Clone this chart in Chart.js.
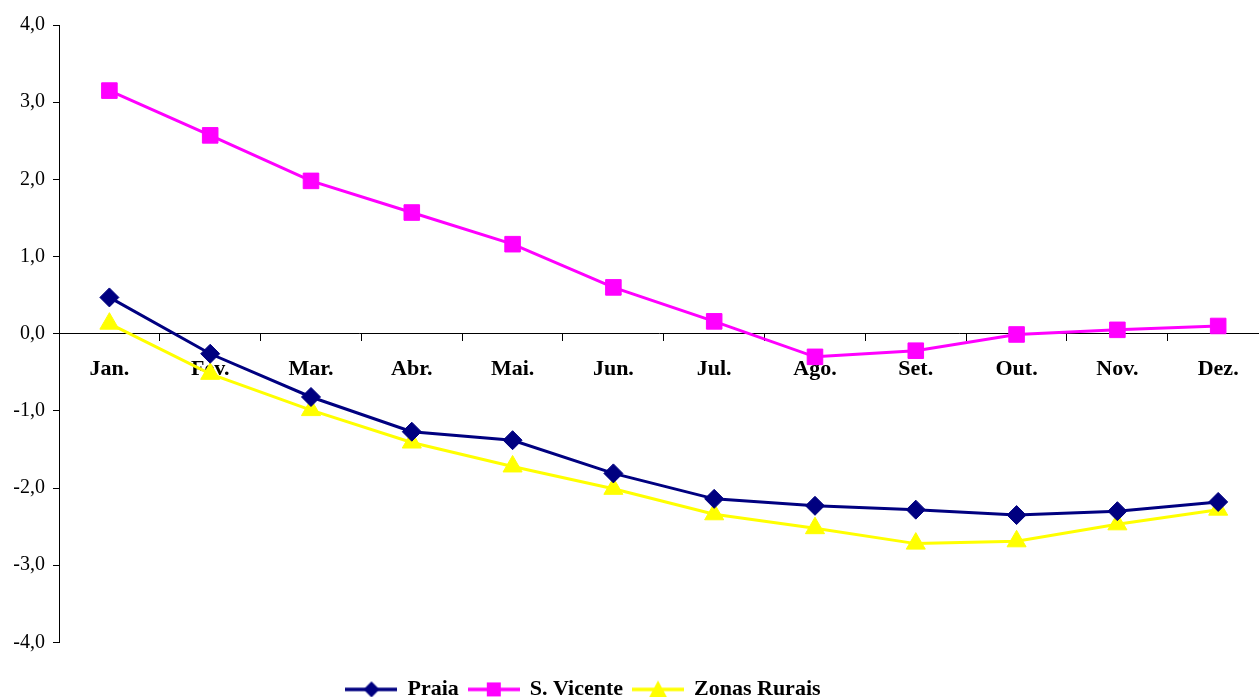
<!DOCTYPE html>
<html>
<head>
<meta charset="utf-8">
<script src="https://cdn.jsdelivr.net/npm/chart.js@4/dist/chart.umd.min.js"></script>
<style>
  html, body { margin: 0; padding: 0; background: #fff; overflow: hidden; }
  #chart { display: block; }
</style>
</head>
<body>
<canvas id="chart" width="1259" height="697"></canvas>
<script>
// meses
const meses = ['Jan.', 'Fev.', 'Mar.', 'Abr.', 'Mai.', 'Jun.', 'Jul.', 'Ago.', 'Set.', 'Out.', 'Nov.', 'Dez.'];

// séries
const praia = [0.47, -0.26, -0.82, -1.27, -1.38, -1.81, -2.14, -2.23, -2.28, -2.35, -2.30, -2.18];
const sVicente = [3.15, 2.57, 1.98, 1.57, 1.16, 0.60, 0.16, -0.30, -0.22, -0.01, 0.05, 0.10];
const zonasRurais = [0.13, -0.52, -0.99, -1.41, -1.72, -2.01, -2.34, -2.52, -2.72, -2.69, -2.47, -2.28];

const yTicks = [-4, -3, -2, -1, 0, 1, 2, 3, 4];

// no original o eixo continua além da margem direita (Dez. fica cortado)
const xMin = -0.5;
const xMax = 11.405;

const serif = '"Liberation Serif", "Times New Roman", serif';

const pontos = arr => arr.map((v, i) => ({ x: i, y: v }));

// ícone da legenda: linha com marcador
function legendIcon(color, shape) {
  const c = document.createElement('canvas');
  c.width = 52; c.height = 22;
  const g = c.getContext('2d');
  g.strokeStyle = color;
  g.lineWidth = 3.5;
  g.beginPath(); g.moveTo(0, 11); g.lineTo(52, 11); g.stroke();
  g.fillStyle = color;
  g.beginPath();
  if (shape === 'diamond') {
    g.moveTo(26, 3); g.lineTo(34, 11); g.lineTo(26, 19); g.lineTo(18, 11);
  } else if (shape === 'square') {
    g.rect(19, 4, 14, 14);
  } else {
    g.moveTo(26, 2); g.lineTo(35, 19); g.lineTo(17, 19);
  }
  g.closePath(); g.fill();
  return c;
}

const icons = [
  legendIcon('#000080', 'diamond'),
  legendIcon('#FF00FF', 'square'),
  legendIcon('#FFFF00', 'triangle')
];

// desloca a legenda para a posição do original
const legendShift = {
  id: 'legendShift',
  afterLayout(chart) {
    const lg = chart.legend;
    if (!lg) return;
    lg.left -= 46; lg.right -= 46;
    lg.top += 26; lg.bottom += 26;
  }
};

new Chart(document.getElementById('chart'), {
  type: 'line',
  data: {
    datasets: [
      {
        label: 'Praia',
        data: pontos(praia),
        borderColor: '#000080',
        backgroundColor: '#000080',
        borderWidth: 3,
        pointStyle: 'rectRot',
        pointRadius: 9.5,
        pointBorderWidth: 1,
        tension: 0
      },
      {
        label: 'S. Vicente',
        data: pontos(sVicente),
        borderColor: '#FF00FF',
        backgroundColor: '#FF00FF',
        borderWidth: 3,
        pointStyle: 'rect',
        pointRadius: 11,
        pointBorderWidth: 1,
        tension: 0
      },
      {
        label: 'Zonas Rurais',
        data: pontos(zonasRurais),
        borderColor: '#FFFF00',
        backgroundColor: '#FFFF00',
        borderWidth: 3,
        pointStyle: 'triangle',
        pointRadius: 11,
        pointBorderWidth: 1,
        tension: 0
      }
    ]
  },
  options: {
    responsive: false,
    animation: false,
    layout: { autoPadding: false, padding: { top: 25, left: 0, right: 0, bottom: 12.6 } },
    plugins: {
      tooltip: { enabled: false },
      legend: {
        position: 'bottom',
        labels: {
          usePointStyle: true,
          pointStyleWidth: 50,
          padding: 10,
          color: '#000',
          font: { family: serif, size: 22, weight: 'bold' },
          generateLabels(chart) {
            return chart.data.datasets.map((ds, i) => ({
              text: ds.label,
              fillStyle: ds.backgroundColor,
              strokeStyle: ds.borderColor,
              lineWidth: 0,
              pointStyle: icons[i],
              datasetIndex: i,
              hidden: false
            }));
          }
        }
      }
    },
    scales: {
      // eixo com as marcas entre os meses
      x: {
        type: 'linear',
        position: { y: 0 },
        min: xMin,
        max: xMax,
        afterBuildTicks(scale) {
          scale.ticks = meses.map((m, i) => ({ value: i - 0.5 }));
        },
        afterFit(scale) { scale.paddingLeft = 0; scale.paddingRight = 0; },
        grid: {
          drawOnChartArea: false,
          drawTicks: true,
          tickLength: 7,
          color: '#000'
        },
        border: { display: true, color: '#000', width: 1 },
        ticks: { display: false }
      },
      // eixo só com os nomes dos meses
      xMeses: {
        type: 'linear',
        position: { y: 0 },
        min: xMin,
        max: xMax,
        afterBuildTicks(scale) {
          scale.ticks = meses.map((m, i) => ({ value: i }));
        },
        afterFit(scale) { scale.paddingLeft = 0; scale.paddingRight = 0; },
        grid: { display: false, drawTicks: false },
        border: { display: false },
        ticks: {
          color: '#000',
          padding: 22,
          maxRotation: 0,
          autoSkip: false,
          font: { family: serif, size: 22, weight: 'bold' },
          callback: v => meses[v]
        }
      },
      y: {
        min: -4,
        max: 4,
        afterFit(scale) { scale.width = 59; },
        afterBuildTicks(scale) { scale.ticks = yTicks.map(v => ({ value: v })); },
        grid: {
          drawOnChartArea: false,
          drawTicks: true,
          tickLength: 6,
          color: '#000'
        },
        border: { display: true, color: '#000', width: 1 },
        ticks: {
          color: '#000',
          padding: 8,
          font: { family: serif, size: 20 },
          callback: v => v.toFixed(1).replace('.', ',')
        }
      }
    }
  },
  plugins: [legendShift]
});
</script>
</body>
</html>
